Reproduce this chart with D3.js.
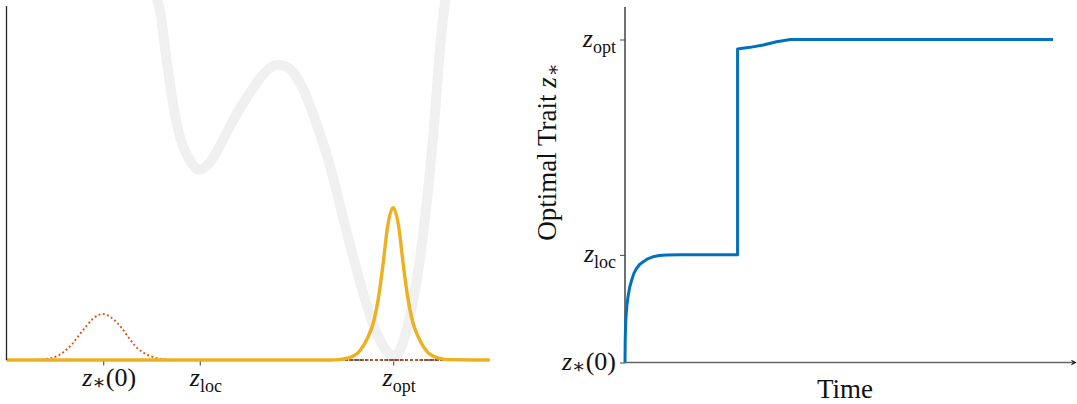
<!DOCTYPE html>
<html>
<head>
<meta charset="utf-8">
<script src="https://cdn.jsdelivr.net/npm/d3@7"></script>
<style>
  body { margin: 0; background: #fff; }
  svg { display: block; }
  text { font-family: "Liberation Serif", "DejaVu Serif", serif; fill: #111; }
</style>
</head>
<body>
<svg id="chart" width="1077" height="404"></svg>
<script>
// trait ticks shared by both panels
const traitTicks = [-2, -1, 1];
const tickSub = ["\u2217", "loc", "opt"];
const tickTail = ["(0)", "", ""];

// fitness landscape (grey)
const landZ = [-1.50, -1.42, -1.38, -1.31, -1.22, -1.13, -1.06, -1.0, -0.93, -0.86, -0.76, -0.66, -0.55, -0.45, -0.35, -0.27, -0.19, -0.11, -0.04, 0.05, 0.14, 0.32, 0.48, 0.66, 0.83, 1.0, 1.12, 1.24, 1.35, 1.43, 1.50, 1.57];
const landW = [1.06, 0.998, 0.924, 0.782, 0.645, 0.577, 0.547, 0.538, 0.548, 0.572, 0.622, 0.675, 0.726, 0.768, 0.805, 0.826, 0.834, 0.829, 0.815, 0.776, 0.718, 0.573, 0.404, 0.218, 0.076, 0.011, 0.065, 0.218, 0.452, 0.686, 0.924, 1.08];

// initial trait distribution (red dotted)
const initZ = [-3, -2.75, -2.617, -2.514, -2.411, -2.324, -2.248, -2.179, -2.100, -2.0, -1.893, -1.806, -1.738, -1.669, -1.573, -1.480, -1.376, -1.25, 2];
const initP = [0, 0, 0.002, 0.007, 0.022, 0.044, 0.071, 0.094, 0.118, 0.130, 0.115, 0.090, 0.064, 0.040, 0.019, 0.008, 0.002, 0, 0];

// final trait distribution (orange)
const finalZ = [-3, 0.35, 0.44, 0.526, 0.646, 0.733, 0.798, 0.853, 0.899, 0.940, 1.0, 1.060, 1.101, 1.147, 1.202, 1.267, 1.354, 1.474, 1.56, 2];
const finalP = [0, 0, 0.001, 0.005, 0.023, 0.061, 0.108, 0.184, 0.278, 0.372, 0.430, 0.372, 0.278, 0.184, 0.108, 0.061, 0.023, 0.005, 0.001, 0];

// optimal trait over time (blue)
const timeT = [0, 0.05, 0.12, 0.23, 0.45, 0.7, 1.1, 1.57, 2.1, 2.73, 3.4, 4.28, 5.3, 6.61, 8.0, 9.74, 12.85, 26.3, 26.3, 29.2, 32.3, 35.4, 36.9, 38.6, 100];
const traitZ = [-2, -1.80, -1.68, -1.575, -1.47, -1.389, -1.30, -1.234, -1.17, -1.125, -1.09, -1.064, -1.037, -1.017, -1.007, -1.002, -1.0, -1.0, 0.912, 0.927, 0.949, 0.979, 0.989, 1.0, 1.0];

const svg = d3.select("#chart");

// ---------- left panel ----------
const x = d3.scaleLinear().domain([-3, 2]).range([6.5, 489.8]);
const y = d3.scaleLinear().domain([0, 1]).range([360, 6]);

const pts = (xs, ys, sx, sy) => xs.map((v, i) => [sx(v), sy(ys[i])]);
const natural = d3.line().curve(d3.curveNatural);
const mono = d3.line().curve(d3.curveMonotoneX);

const left = svg.append("g");

left.append("path")
  .attr("d", natural(pts(landZ, landW, x, y)))
  .attr("fill", "none")
  .attr("stroke", "#f0f0f0")
  .attr("stroke-width", 10)
  .attr("stroke-linecap", "round");

left.append("line")
  .attr("x1", x(0.45)).attr("x2", x(1.5))
  .attr("y1", y(0)).attr("y2", y(0))
  .attr("stroke", "#222").attr("stroke-width", 1.6)
  .attr("stroke-dasharray", "3,2");

left.append("path")
  .attr("d", mono(pts(initZ, initP, x, y)))
  .attr("fill", "none")
  .attr("stroke", "#D95319")
  .attr("stroke-width", 1.9)
  .attr("stroke-dasharray", "1.9,2.5");

left.append("path")
  .attr("d", mono(pts(finalZ, finalP, x, y)))
  .attr("fill", "none")
  .attr("stroke", "#EDB120")
  .attr("stroke-width", 3.4)
  .attr("stroke-linejoin", "round");

// axes of left panel
left.append("line")
  .attr("x1", x(-3)).attr("x2", x(-3))
  .attr("y1", y(0)).attr("y2", y(1))
  .attr("stroke", "#262626").attr("stroke-width", 1.3);

const xAxis = left.append("g")
  .attr("transform", `translate(0,${y(0) + 1.5})`)
  .call(d3.axisBottom(x).tickValues(traitTicks).tickSize(4).tickSizeOuter(0).tickFormat(""));
xAxis.select(".domain").remove();
xAxis.selectAll(".tick line").attr("stroke", "#666").attr("stroke-width", 1.3);

const tickLabel = (sel, i) => {
  sel.append("tspan").attr("font-style", "italic").text("z");
  sel.append("tspan").attr("font-size", i === 0 ? 20 : 18).attr("dy", i === 0 ? 3 : 6).text(tickSub[i]);
  if (tickTail[i]) sel.append("tspan").attr("dy", i === 0 ? -3 : -6).text(tickTail[i]);
};

traitTicks.forEach((v, i) => {
  const lab = left.append("text")
    .attr("x", x(v) + 6)
    .attr("y", 386)
    .attr("font-size", 26)
    .attr("text-anchor", "middle");
  tickLabel(lab, i);
});

// ---------- right panel ----------
const t = d3.scaleLinear().domain([0, 100]).range([625, 1053]);
const z = d3.scaleLinear().domain([-2, 1]).range([362.5, 39.5]);

const right = svg.append("g");

svg.append("defs").append("marker")
  .attr("id", "arrow")
  .attr("viewBox", "0 0 10 10")
  .attr("refX", 2).attr("refY", 5)
  .attr("markerWidth", 6).attr("markerHeight", 6)
  .attr("markerUnits", "userSpaceOnUse")
  .attr("orient", "auto")
  .append("path")
  .attr("d", "M0,0 L10,5 L0,10 L3,5 Z")
  .attr("fill", "#222");

right.append("line")
  .attr("x1", t(0)).attr("x2", 1072)
  .attr("y1", z(-2)).attr("y2", z(-2))
  .attr("stroke", "#666").attr("stroke-width", 1.6)
  .attr("marker-end", "url(#arrow)");

right.append("line")
  .attr("x1", t(0)).attr("x2", t(0))
  .attr("y1", z(-2)).attr("y2", 7)
  .attr("stroke", "#262626").attr("stroke-width", 1.3);

const yAxis = right.append("g")
  .attr("transform", `translate(${t(0)},0)`)
  .call(d3.axisLeft(z).tickValues(traitTicks).tickSize(5).tickSizeOuter(0).tickFormat(""));
yAxis.select(".domain").remove();
yAxis.selectAll(".tick line").attr("stroke", "#444").attr("stroke-width", 1);

traitTicks.forEach((v, i) => {
  const lab = right.append("text")
    .attr("x", 616)
    .attr("y", z(v) + 7)
    .attr("font-size", 26)
    .attr("text-anchor", "end");
  tickLabel(lab, i);
});

right.append("path")
  .attr("d", d3.line()(pts(timeT, traitZ, t, z)))
  .attr("fill", "none")
  .attr("stroke", "#0072BD")
  .attr("stroke-width", 3)
  .attr("stroke-linejoin", "round");

right.append("text")
  .attr("x", 845)
  .attr("y", 398)
  .attr("font-size", 27)
  .attr("text-anchor", "middle")
  .text("Time");

const yl = right.append("text")
  .attr("transform", "translate(556,152) rotate(-90)")
  .attr("font-size", 27)
  .attr("text-anchor", "middle");
yl.append("tspan").text("Optimal Trait ");
yl.append("tspan").attr("font-style", "italic").text("z");
yl.append("tspan").attr("font-size", 19).attr("dx", 1).attr("dy", 3).text("\u2217");
</script>
</body>
</html>
